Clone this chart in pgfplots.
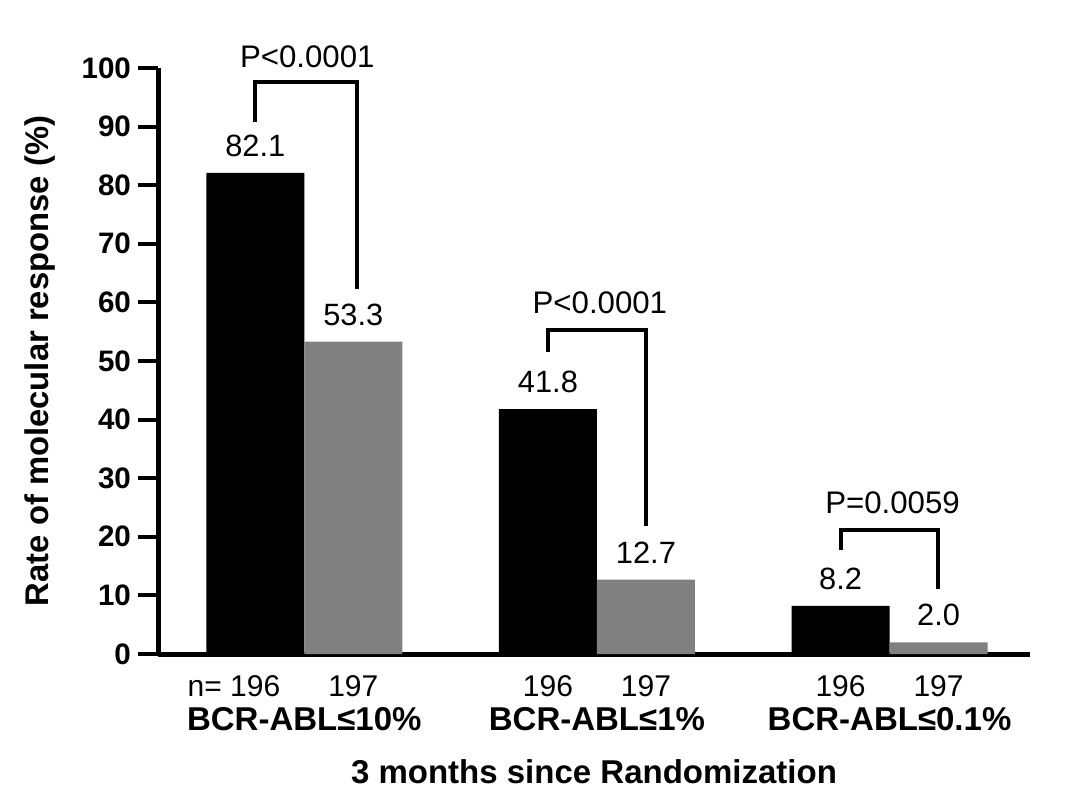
\documentclass[border=0pt]{standalone}
\usepackage{pgfplots}
\pgfplotsset{compat=1.18}
\usepackage{fontspec}
\setmainfont{Liberation Sans}
\definecolor{bargray}{RGB}{128,128,128}
\begin{document}
\begin{tikzpicture}
\path[use as bounding box] (0,0) rectangle (540pt,399.5pt);
\begin{axis}[
    at={(79pt,72.5pt)}, anchor=south west,
    scale only axis, width=436pt, height=293pt,
    xmin=-0.5, xmax=2.48, ymin=0, ymax=100,
    clip=false,
    ybar, bar width=49pt,
    axis x line*=bottom, axis y line*=left,
    axis line style={line width=2.5pt},
    /pgf/number format/assume math mode=true,
    tick align=outside,
    major tick length=10pt,
    ytick={0,10,...,100},
    ytick style={line width=2pt, black},
    yticklabel style={font=\bfseries\fontsize{14.8}{17}\selectfont},
    xtick={-0.1675,0.1675,0.8325,1.1675,1.8325,2.1675},
    xticklabels={\llap{n= }196,197,196,197,196,197},
    x tick style={draw=none},
    xticklabel style={font=\fontsize{15}{18}\selectfont, anchor=center, yshift=-6pt},
    extra x ticks={0,1,2},
    extra x tick labels={BCR-ABL≤10\%,BCR-ABL≤1\%,BCR-ABL≤0.1\%},
    extra x tick style={tick style={draw=none},
        xticklabel style={font=\bfseries\fontsize{16.5}{19}\selectfont, yshift=-16.5pt}},
    ylabel={Rate of molecular response (\%)},
    ylabel style={font=\bfseries\fontsize{16.4}{19}\selectfont, at={(axis description cs:-0.135,0.5)}, anchor=center},
    xlabel={3 months since Randomization},
    xlabel style={font=\bfseries\fontsize{16.5}{19}\selectfont, at={(axis description cs:0.5,-0.2014)}, anchor=center},
    every node near coord/.append style={font=\fontsize{15.4}{18}\selectfont, anchor=center, yshift=13.5pt, black},
]
\addplot[bar shift=-24.5pt, fill=black, draw=none,
    nodes near coords={\pgfmathprintnumber[fixed,fixed zerofill,precision=1]{\pgfplotspointmeta}}]
    coordinates {(0,82.1) (1,41.8) (2,8.2)};
\addplot[bar shift=24.5pt, fill=bargray, draw=none,
    nodes near coords={\pgfmathprintnumber[fixed,fixed zerofill,precision=1]{\pgfplotspointmeta}}]
    coordinates {(0,53.3) (1,12.7) (2,2.0)};
% significance brackets
\addplot[sharp plot, black, line width=2pt, mark=none, forget plot]
    coordinates {(-0.168,90.8) (-0.168,97.6) (0.18,97.6) (0.18,62.3)};
\addplot[sharp plot, black, line width=2pt, mark=none, forget plot]
    coordinates {(0.833,51.5) (0.833,55.3) (1.167,55.3) (1.167,21.8)};
\addplot[sharp plot, black, line width=2pt, mark=none, forget plot]
    coordinates {(1.833,17.7) (1.833,21.2) (2.165,21.2) (2.165,11.1)};
\node[font=\fontsize{15.6}{18}\selectfont] at (axis cs:1.01,60.0) {P<0.0001};
\node[font=\fontsize{15.6}{18}\selectfont] at (axis cs:0.01,102) {P<0.0001};
\node[font=\fontsize{15.6}{18}\selectfont] at (axis cs:2.01,25.8) {P=0.0059};
\end{axis}
\end{tikzpicture}
\end{document}
